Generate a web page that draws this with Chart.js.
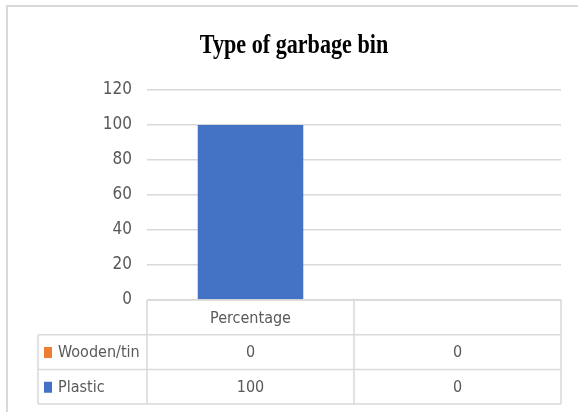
<!DOCTYPE html>
<html>
<head>
<meta charset="utf-8">
<script src="https://cdn.jsdelivr.net/npm/chart.js@4/dist/chart.umd.min.js"></script>
<style>
  html, body { margin: 0; padding: 0; background: #fff; }
  #wrap { width: 578px; height: 412px; }
</style>
</head>
<body>
<div id="wrap"><canvas id="c" width="578" height="412"></canvas></div>
<script>
// Chart data
const chartTitle = 'Type of garbage bin';
const categories = ['Percentage', ''];
const seriesNames = ['Wooden/tin', 'Plastic'];
const woodenTin = [0, 0];
const plastic = [100, 0];
const yMin = 0;
const yMax = 120;
const yStep = 20;

const seriesColors = ['#ED7D31', '#4472C4'];
const seriesValues = [woodenTin, plastic];

const GRID = '#D9D9D9';
const TEXT = '#595959';
const NARROW = "'Liberation Sans Narrow', 'DejaVu Sans Condensed', 'Liberation Sans', sans-serif";

// Frame + condensed serif title
const framePlugin = {
  id: 'frame',
  beforeDraw(chart) {
    const ctx = chart.ctx;
    ctx.save();
    ctx.fillStyle = '#fff';
    ctx.fillRect(0, 0, chart.width, chart.height);
    ctx.strokeStyle = GRID;
    ctx.lineWidth = 2;
    ctx.beginPath();
    ctx.moveTo(7, chart.height + 2);
    ctx.lineTo(7, 6);
    ctx.lineTo(chart.width + 2, 6);
    ctx.stroke();
    ctx.restore();
  },
  afterDraw(chart) {
    const ctx = chart.ctx;
    ctx.save();
    ctx.fillStyle = '#000';
    ctx.font = "bold 27px 'Liberation Serif', 'DejaVu Serif', serif";
    ctx.textAlign = 'center';
    ctx.textBaseline = 'alphabetic';
    ctx.translate(294, 53);
    ctx.scale(0.82, 1);
    ctx.fillText(chartTitle, 0, 0);
    ctx.restore();
  }
};

// Data table under the plot, aligned to the category scale
const tablePlugin = {
  id: 'dataTable',
  afterDraw(chart) {
    const ctx = chart.ctx;
    const xs = chart.scales.x;
    const ys = chart.scales.y;
    const left = xs.left, right = xs.right;
    const n = categories.length;
    const colW = (right - left) / n;
    const top = ys.getPixelForValue(yMin);
    const rowH = 34.7;
    const labelLeft = 38;
    const rowsY = [top, top + rowH, top + 2 * rowH, top + 3 * rowH];

    ctx.save();
    ctx.strokeStyle = GRID;
    ctx.lineWidth = 1.5;
    ctx.beginPath();
    ctx.moveTo(left, rowsY[0]); ctx.lineTo(right, rowsY[0]);
    for (let r = 1; r < rowsY.length; r++) {
      ctx.moveTo(labelLeft, rowsY[r]); ctx.lineTo(right, rowsY[r]);
    }
    ctx.moveTo(labelLeft, rowsY[1]); ctx.lineTo(labelLeft, rowsY[3]);
    for (let i = 0; i <= n; i++) {
      const x = left + i * colW;
      ctx.moveTo(x, rowsY[0]); ctx.lineTo(x, rowsY[3]);
    }
    ctx.stroke();

    ctx.fillStyle = TEXT;
    ctx.textAlign = 'center';
    ctx.textBaseline = 'middle';
    ctx.font = '16px ' + NARROW;
    categories.forEach((c, i) => {
      ctx.fillText(c, xs.getPixelForValue(i), (rowsY[0] + rowsY[1]) / 2 + 1);
    });

    seriesNames.forEach((name, s) => {
      const cy = (rowsY[s + 1] + rowsY[s + 2]) / 2 + 1;
      ctx.fillStyle = seriesColors[s];
      ctx.fillRect(44, cy - 6, 8, 11);
      ctx.fillStyle = TEXT;
      ctx.textAlign = 'left';
      ctx.fillText(name, 58, cy);
      ctx.textAlign = 'center';
      seriesValues[s].forEach((v, i) => {
        ctx.fillText(String(v), xs.getPixelForValue(i), cy);
      });
    });
    ctx.restore();
  }
};

new Chart(document.getElementById('c'), {
  type: 'bar',
  data: {
    labels: categories,
    datasets: seriesNames.map((name, s) => ({
      label: name,
      data: seriesValues[s],
      backgroundColor: seriesColors[s],
      borderWidth: 0,
      categoryPercentage: 0.51,
      barPercentage: 1
    }))
  },
  options: {
    responsive: false,
    animation: false,
    devicePixelRatio: 1,
    layout: { padding: { left: 0, right: 17, top: 90, bottom: 112 } },
    plugins: {
      legend: { display: false },
      title: { display: false },
      tooltip: { enabled: false }
    },
    scales: {
      x: {
        stacked: true,
        display: false
      },
      y: {
        stacked: true,
        min: yMin,
        max: yMax,
        afterFit(scale) { scale.width = 147; },
        ticks: {
          stepSize: yStep,
          color: TEXT,
          padding: 15,
          font: { family: NARROW, size: 17 }
        },
        grid: { color: GRID, lineWidth: 1.5, drawTicks: false },
        border: { display: false }
      }
    }
  },
  plugins: [framePlugin, tablePlugin]
});
</script>
</body>
</html>
